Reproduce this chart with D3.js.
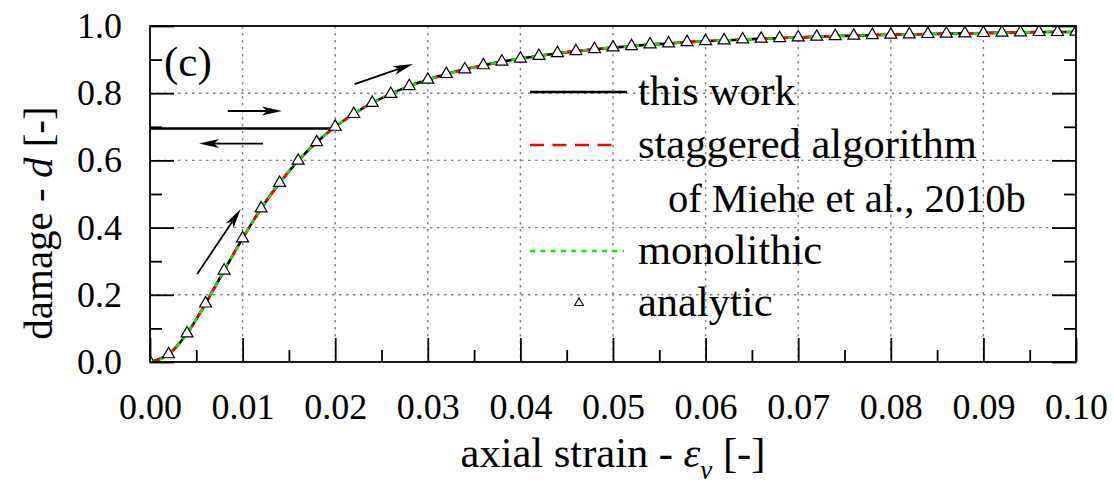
<!DOCTYPE html>
<html>
<head>
<meta charset="utf-8">
<script src="https://cdn.jsdelivr.net/npm/d3@7/dist/d3.min.js"></script>
<style>
  body { margin: 0; background: #fff; }
  svg { display: block; }
  svg text { font-family: "Liberation Serif", "Tinos", "Times New Roman", Times, "DejaVu Serif", "Noto Serif", serif !important; fill: #000; }
</style>
</head>
<body>
<svg id="chart" width="1114" height="486"></svg>
<script>
// Axial strain sampling points
const strain = [
  0.000, 0.002, 0.004, 0.006, 0.008, 0.010, 0.012, 0.014, 0.016, 0.018,
  0.020, 0.022, 0.024, 0.026, 0.028, 0.030, 0.032, 0.034, 0.036, 0.038,
  0.040, 0.042, 0.044, 0.046, 0.048, 0.050, 0.052, 0.054, 0.056, 0.058,
  0.060, 0.062, 0.064, 0.066, 0.068, 0.070, 0.072, 0.074, 0.076, 0.078,
  0.080, 0.082, 0.084, 0.086, 0.088, 0.090, 0.092, 0.094, 0.096, 0.098,
  0.100
];

// Analytic damage values (triangle markers)
const dAnalytic = [
  0.000, 0.023, 0.085, 0.174, 0.272, 0.368, 0.457, 0.533, 0.599, 0.654,
  0.700, 0.738, 0.771, 0.798, 0.821, 0.840, 0.857, 0.871, 0.883, 0.894,
  0.903, 0.911, 0.919, 0.925, 0.931, 0.936, 0.940, 0.945, 0.948, 0.952,
  0.955, 0.957, 0.960, 0.962, 0.964, 0.966, 0.968, 0.970, 0.971, 0.973,
  0.974, 0.975, 0.976, 0.977, 0.978, 0.979, 0.980, 0.981, 0.982, 0.982,
  0.983
];

// Numerical damage curves (the three solutions coincide at this scale)
const dThisWork = [
  0.000, 0.023, 0.085, 0.174, 0.272, 0.368, 0.457, 0.533, 0.599, 0.654,
  0.700, 0.738, 0.771, 0.798, 0.821, 0.840, 0.857, 0.871, 0.883, 0.894,
  0.903, 0.911, 0.919, 0.925, 0.931, 0.936, 0.940, 0.945, 0.948, 0.952,
  0.955, 0.957, 0.960, 0.962, 0.964, 0.966, 0.968, 0.970, 0.971, 0.973,
  0.974, 0.975, 0.976, 0.977, 0.978, 0.979, 0.980, 0.981, 0.982, 0.982,
  0.983
];
const dStaggered = dThisWork.slice();
const dMonolithic = dThisWork.slice();

// Unloading / reloading branch of "this work" at frozen damage
const cycleStrain = [0.0197, 0.0, 0.0197];
const cycleDamage = [0.695, 0.695, 0.695];

// Tick labels
const xTickValues = [0, 0.01, 0.02, 0.03, 0.04, 0.05, 0.06, 0.07, 0.08, 0.09, 0.10];
const xTickLabels = ["0.00", "0.01", "0.02", "0.03", "0.04", "0.05", "0.06", "0.07", "0.08", "0.09", "0.10"];
const yTickValues = [0, 0.2, 0.4, 0.6, 0.8, 1.0];
const yTickLabels = ["0.0", "0.2", "0.4", "0.6", "0.8", "1.0"];
const xMinorTicks = [0.005, 0.015, 0.025, 0.035, 0.045, 0.055, 0.065, 0.075, 0.085, 0.095];
const yMinorTicks = [0.1, 0.3, 0.5, 0.7, 0.9];

// Loading-direction arrows: [strain0, d0, strain1, d1]
const arrows = [
  [0.0084, 0.747, 0.01425, 0.747],
  [0.0122, 0.650, 0.0053, 0.650],
  [0.0221, 0.827, 0.0284, 0.887],
  [0.0051, 0.262, 0.0098, 0.455]
];

const FONT = '"Liberation Serif", "Tinos", "Times New Roman", Times, "DejaVu Serif", "Noto Serif", serif';
const svg = d3.select("#chart");
const L = 150, R = 1076, T = 26, B = 362;

const x = d3.scaleLinear().domain([0, 0.1]).range([L, R]);
const y = d3.scaleLinear().domain([0, 1]).range([B, T]);

svg.append("defs").append("clipPath").attr("id", "plotClip")
  .append("rect").attr("x", L).attr("y", T).attr("width", R - L).attr("height", B - T);

// Dotted grid
const grid = svg.append("g").attr("stroke", "#808080").attr("stroke-width", 1.4)
  .attr("stroke-dasharray", "2.5,4.5");
grid.selectAll("line.v").data(xTickValues.slice(1, -1)).join("line")
  .attr("x1", d => x(d)).attr("x2", d => x(d)).attr("y1", T).attr("y2", B);
grid.selectAll("line.h").data(yTickValues.slice(1, -1)).join("line")
  .attr("x1", L).attr("x2", R).attr("y1", d => y(d)).attr("y2", d => y(d));

// Axes with inward ticks
function styleAxis(g) {
  g.attr("font-family", FONT);
  g.select(".domain").remove();
  g.selectAll(".tick line").attr("stroke", "#000").attr("stroke-width", 1.8);
}
svg.append("g").attr("transform", `translate(0,${B})`)
  .call(d3.axisBottom(x).tickValues(xTickValues).tickSize(-24).tickPadding(31.5)
    .tickFormat((d, i) => xTickLabels[i]))
  .call(styleAxis)
  .selectAll("text").attr("font-size", 36).attr("fill", "#000");
svg.append("g").attr("transform", `translate(0,${B})`)
  .call(d3.axisBottom(x).tickValues(xMinorTicks).tickSize(-12).tickFormat(""))
  .call(styleAxis);

svg.append("g").attr("transform", `translate(${L},0)`)
  .call(d3.axisLeft(y).tickValues(yTickValues).tickSize(-24).tickPadding(28)
    .tickFormat((d, i) => yTickLabels[i]))
  .call(styleAxis)
  .selectAll("text").attr("font-size", 36).attr("fill", "#000");
svg.append("g").attr("transform", `translate(${L},0)`)
  .call(d3.axisLeft(y).tickValues(yMinorTicks).tickSize(-12).tickFormat(""))
  .call(styleAxis);

svg.append("g").attr("transform", `translate(${R},0)`)
  .call(d3.axisRight(y).tickValues(yTickValues).tickSize(-24).tickFormat(""))
  .call(styleAxis);
svg.append("g").attr("transform", `translate(${R},0)`)
  .call(d3.axisRight(y).tickValues(yMinorTicks).tickSize(-12).tickFormat(""))
  .call(styleAxis);

// Data layer
const plot = svg.append("g").attr("clip-path", "url(#plotClip)");
const line = d3.line().x(d => x(d[0])).y(d => y(d[1])).curve(d3.curveMonotoneX);
const lineStraight = d3.line().x(d => x(d[0])).y(d => y(d[1]));

const zip = (a, b) => a.map((v, i) => [v, b[i]]);

// this work: loading path + unload/reload branch
plot.append("path").datum(zip(strain, dThisWork))
  .attr("d", line).attr("fill", "none").attr("stroke", "#000").attr("stroke-width", 2.6);
plot.append("path").datum(zip(cycleStrain, cycleDamage))
  .attr("d", lineStraight).attr("fill", "none").attr("stroke", "#000").attr("stroke-width", 2.6);

// staggered algorithm
plot.append("path").datum(zip(strain, dStaggered))
  .attr("d", line).attr("fill", "none").attr("stroke", "#ff0000").attr("stroke-width", 2.6)
  .attr("stroke-dasharray", "14,8.5");

// monolithic
plot.append("path").datum(zip(strain, dMonolithic))
  .attr("d", line).attr("fill", "none").attr("stroke", "#00ee00").attr("stroke-width", 2.4)
  .attr("stroke-dasharray", "5,5.3");

// analytic markers
const tri = d3.symbol().type(d3.symbolTriangle).size(62);
plot.selectAll("path.tri").data(zip(strain, dAnalytic)).join("path")
  .attr("class", "tri")
  .attr("transform", d => `translate(${x(d[0])},${y(d[1])})`)
  .attr("d", tri).attr("fill", "#fff").attr("stroke", "#000").attr("stroke-width", 1.2);

// Frame
svg.append("rect").attr("x", L).attr("y", T).attr("width", R - L).attr("height", B - T)
  .attr("fill", "none").attr("stroke", "#000").attr("stroke-width", 1.8);

// Arrows
const arrowG = svg.append("g");
arrows.forEach(a => {
  const x0 = x(a[0]), y0 = y(a[1]), x1 = x(a[2]), y1 = y(a[3]);
  const ang = Math.atan2(y1 - y0, x1 - x0);
  const len = 20, hw = 4.5, notch = 5;
  const cos = Math.cos(ang), sin = Math.sin(ang);
  const pt = (along, across) => [x1 + along * cos - across * sin, y1 + along * sin + across * cos];
  arrowG.append("line").attr("x1", x0).attr("y1", y0)
    .attr("x2", pt(-len + notch, 0)[0]).attr("y2", pt(-len + notch, 0)[1])
    .attr("stroke", "#000").attr("stroke-width", 1.8);
  const head = [pt(0, 0), pt(-len, hw), pt(-len + notch, 0), pt(-len, -hw)];
  arrowG.append("path").attr("d", "M" + head.map(p => p.join(",")).join("L") + "Z").attr("fill", "#000");
});

// Text layer
const txt = svg.append("g").attr("font-family", FONT);

// Panel label
txt.append("text").attr("x", 164).attr("y", 76).attr("font-size", 43).text("(c)");

// Legend
const leg = svg.append("g");
const lx0 = 530, tx = 638;
leg.append("line").attr("x1", lx0).attr("x2", 627).attr("y1", 92).attr("y2", 92)
  .attr("stroke", "#000").attr("stroke-width", 2.6);
leg.append("line").attr("x1", lx0).attr("x2", 618).attr("y1", 145).attr("y2", 145)
  .attr("stroke", "#ff0000").attr("stroke-width", 2.6).attr("stroke-dasharray", "14,8.5");
leg.append("line").attr("x1", lx0).attr("x2", 624).attr("y1", 251).attr("y2", 251)
  .attr("stroke", "#00ee00").attr("stroke-width", 2.4).attr("stroke-dasharray", "5,5.3");
leg.append("path").attr("transform", "translate(579,303)")
  .attr("d", d3.symbol().type(d3.symbolTriangle).size(34))
  .attr("fill", "#fff").attr("stroke", "#000").attr("stroke-width", 1.1);
txt.append("text").attr("x", tx).attr("y", 105).attr("font-size", 42).text("this work");
txt.append("text").attr("x", tx).attr("y", 158).attr("font-size", 42.5).text("staggered algorithm");
txt.append("text").attr("x", 668).attr("y", 212).attr("font-size", 40.5).text("of Miehe et al., 2010b");
txt.append("text").attr("x", tx).attr("y", 264).attr("font-size", 42.5).text("monolithic");
txt.append("text").attr("x", tx).attr("y", 316).attr("font-size", 42.5).text("analytic");

// Axis titles
const xt = txt.append("text").attr("x", 613).attr("y", 467).attr("font-size", 42.5)
  .attr("text-anchor", "middle");
xt.append("tspan").text("axial strain - ");
xt.append("tspan").attr("font-style", "italic").text("ε");
xt.append("tspan").attr("font-style", "italic").attr("font-size", 27).attr("dy", 12).text("v");
xt.append("tspan").attr("dy", -12).text(" [-]");

const yt = txt.append("text").attr("transform", "translate(52,223) rotate(-90)")
  .attr("font-size", 41).attr("text-anchor", "middle");
yt.append("tspan").text("damage - ");
yt.append("tspan").attr("font-style", "italic").text("d");
yt.append("tspan").text(" [-]");
</script>
</body>
</html>
